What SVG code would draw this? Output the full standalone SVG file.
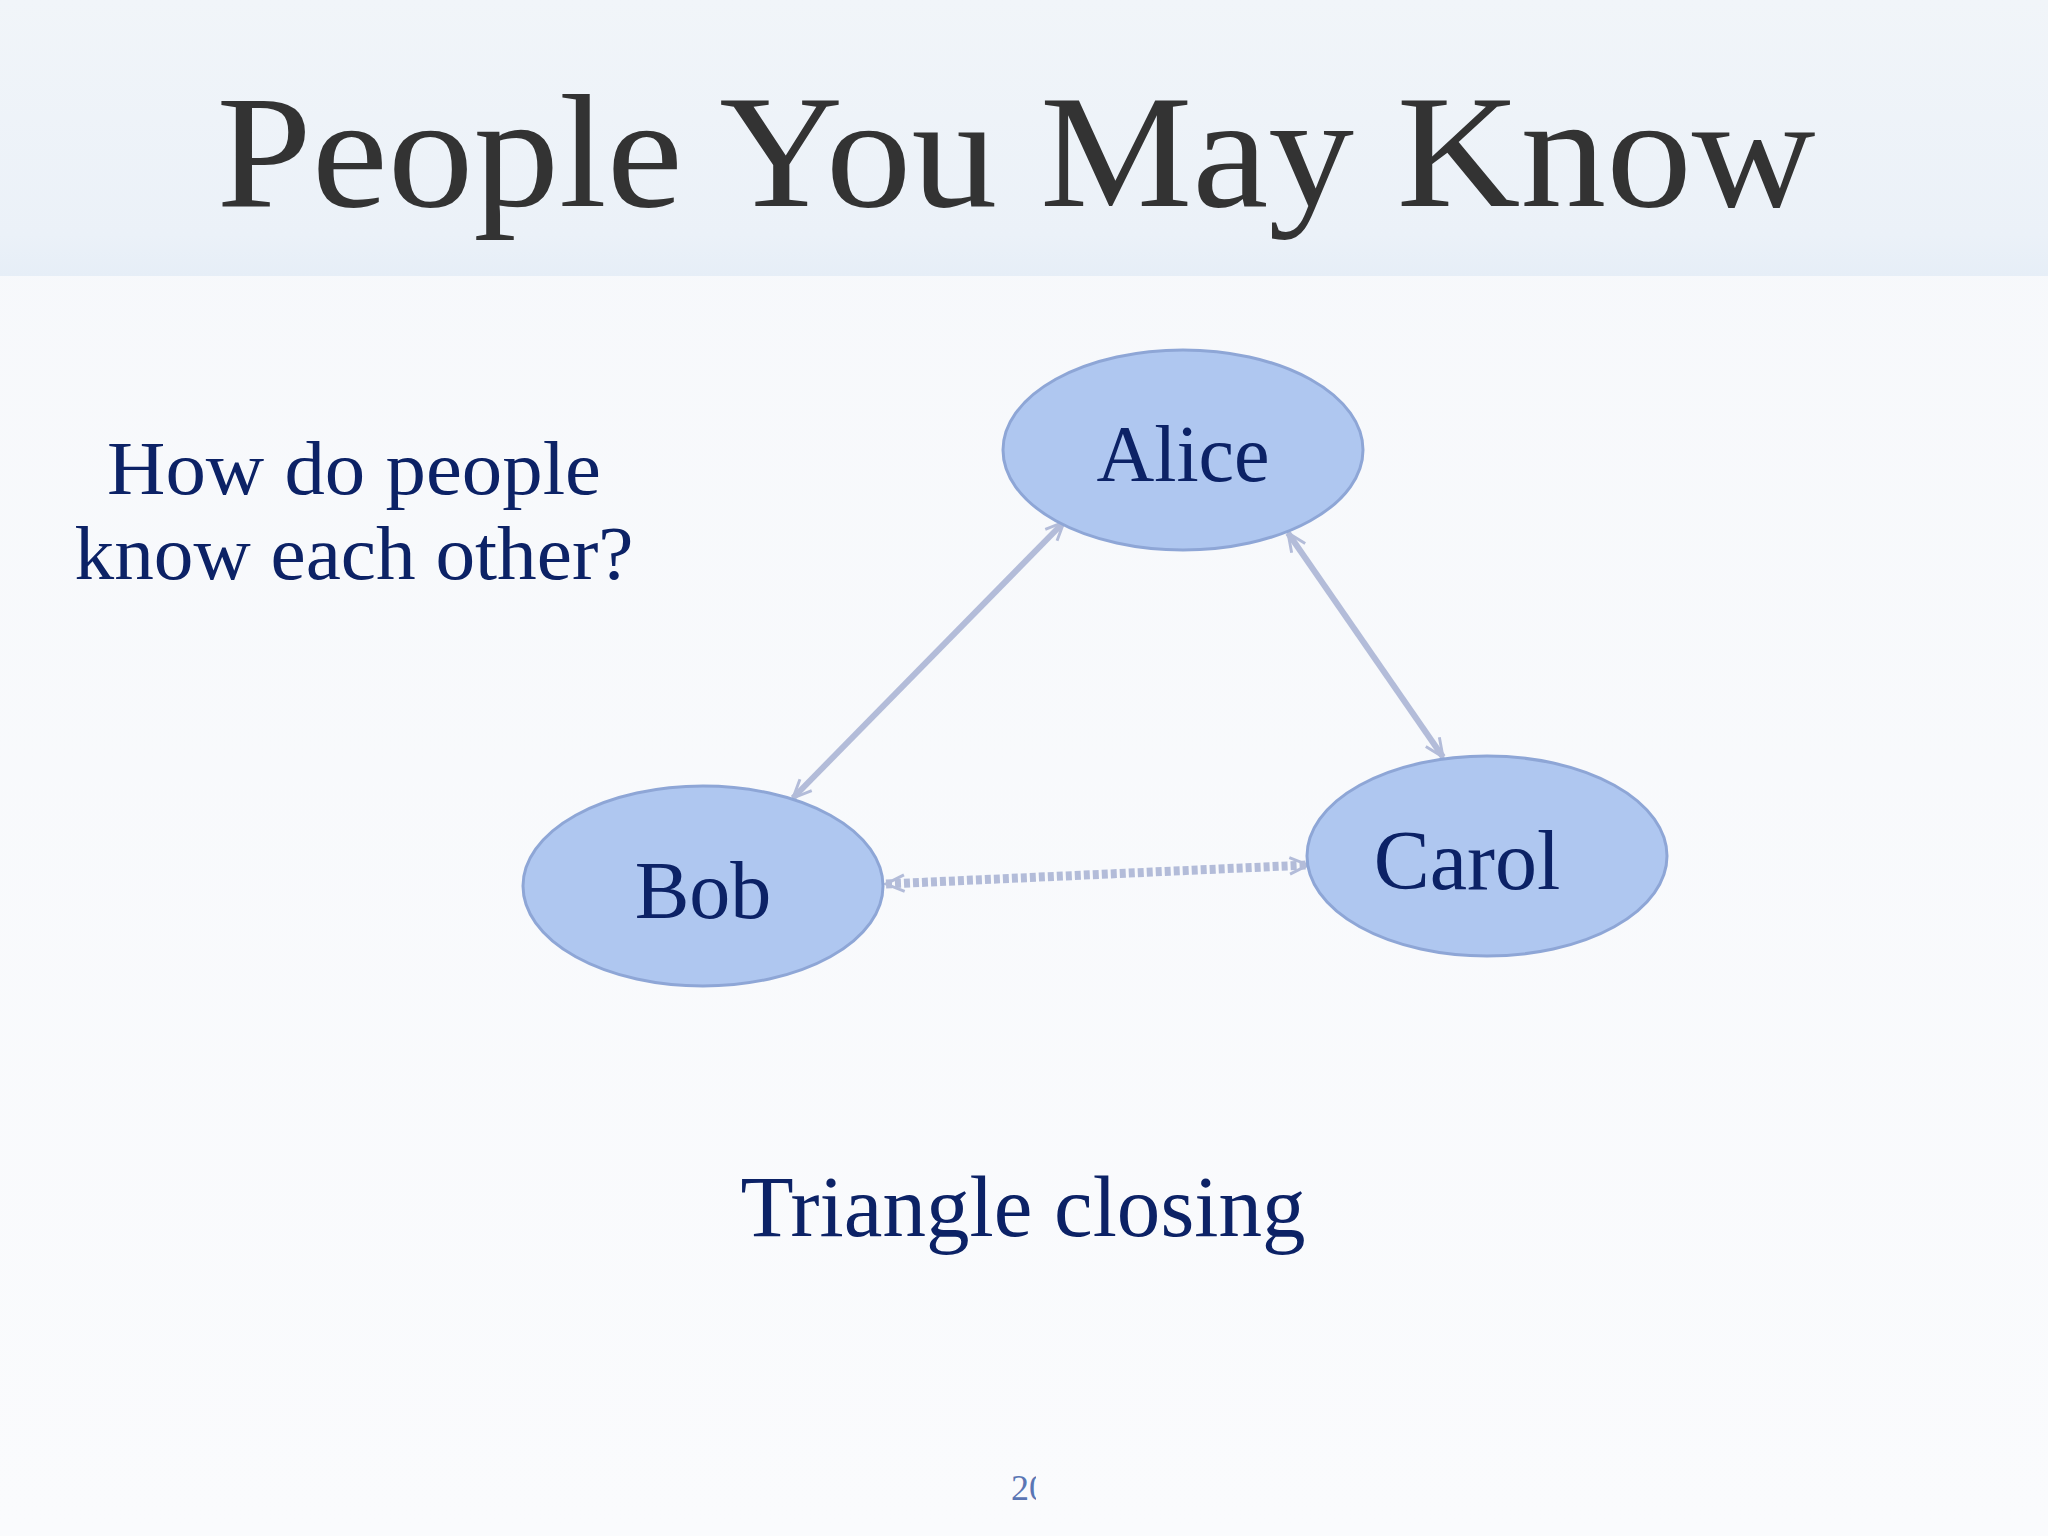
<svg xmlns="http://www.w3.org/2000/svg" width="2048" height="1536" viewBox="0 0 2048 1536">
<defs>
<linearGradient id="band" x1="0" y1="0" x2="0" y2="1">
<stop offset="0" stop-color="#f1f5f9"/>
<stop offset="0.85" stop-color="#ebf1f8"/>
<stop offset="1" stop-color="#e6eef7"/>
</linearGradient>
<linearGradient id="body" x1="0" y1="0" x2="0" y2="1">
<stop offset="0" stop-color="#f6f8fb"/>
<stop offset="1" stop-color="#fafbfd"/>
</linearGradient>
<marker id="arr" viewBox="0 0 12 12" refX="11" refY="6" markerWidth="22" markerHeight="22" orient="auto-start-reverse" markerUnits="userSpaceOnUse">
<path d="M1,1.5 L11,6 L1,10.5" fill="none" stroke="#b3bcd9" stroke-width="1.6"/>
</marker>
<clipPath id="pgclip"><rect x="990" y="1460" width="46" height="60"/></clipPath>
<style>
.node ellipse{fill:#afc7f0;stroke:#8ea6d6;stroke-width:3}
.lbl{font-family:"Liberation Serif","Times New Roman",serif;fill:#0c2266;text-anchor:middle}
.edge{fill:none;stroke:#b3bcd9;stroke-width:6;stroke-linecap:butt}
.dash{stroke-width:9;stroke-dasharray:6 3}
</style>
</defs>
<rect x="0" y="0" width="2048" height="1536" fill="url(#body)"/>
<rect x="0" y="0" width="2048" height="276" fill="url(#band)"/>
<text x="1016" y="206" font-family="'Liberation Serif','Times New Roman',serif" font-size="162" fill="#333333" text-anchor="middle" textLength="1599" lengthAdjust="spacingAndGlyphs">People You May Know</text>
<text class="lbl" x="354" y="494" font-size="76" textLength="494" lengthAdjust="spacingAndGlyphs">How do people</text>
<text class="lbl" x="354" y="579" font-size="76" textLength="559" lengthAdjust="spacingAndGlyphs">know each other?</text>
<g id="connectors">
<line class="edge" x1="793" y1="798" x2="1064" y2="522" marker-start="url(#arr)" marker-end="url(#arr)"/>
<line class="edge" x1="1288" y1="533" x2="1443" y2="757" marker-start="url(#arr)" marker-end="url(#arr)"/>
<line class="edge dash" x1="886" y1="884" x2="1308" y2="865" marker-start="url(#arr)" marker-end="url(#arr)"/>
</g>
<g id="alice" class="node">
<ellipse cx="1183" cy="450" rx="180" ry="100"/>
<text class="lbl" x="1183" y="481" font-size="80">Alice</text>
</g>
<g id="bob" class="node">
<ellipse cx="703" cy="886" rx="180" ry="100"/>
<text class="lbl" x="703" y="918" font-size="82">Bob</text>
</g>
<g id="carol" class="node">
<ellipse cx="1487" cy="856" rx="180" ry="100"/>
<text class="lbl" x="1467" y="889" font-size="84">Carol</text>
</g>
<text class="lbl" x="1023" y="1236" font-size="86" textLength="565" lengthAdjust="spacingAndGlyphs">Triangle closing</text>
<text x="1011" y="1500" font-family="'Liberation Serif','Times New Roman',serif" font-size="36" fill="#5a76b4" clip-path="url(#pgclip)">20</text>
</svg>
